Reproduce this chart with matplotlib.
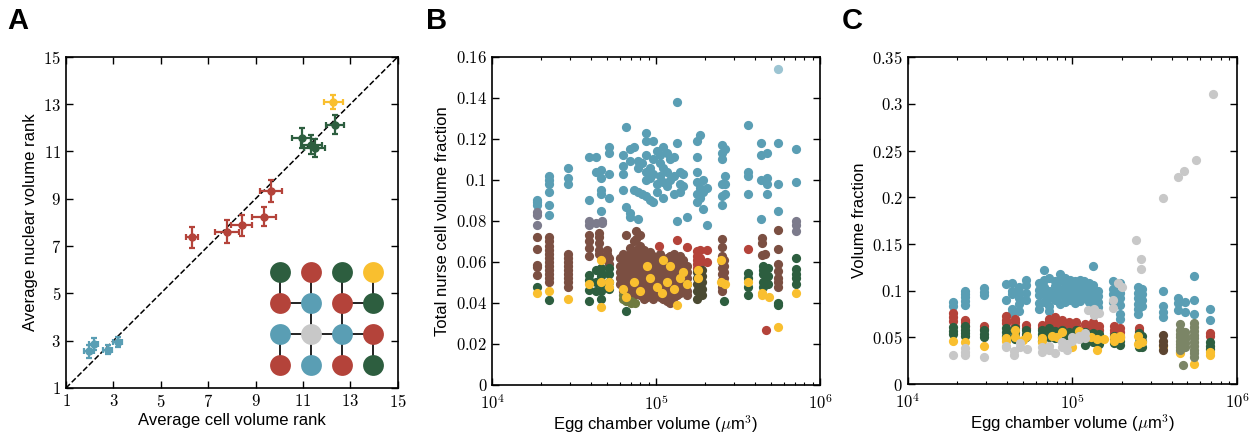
import math
import matplotlib
matplotlib.use("Agg")
import matplotlib.pyplot as plt
import matplotlib.ticker as mticker

plt.rcParams['font.family'] = ['Liberation Sans', 'DejaVu Sans']
plt.rcParams['mathtext.fontset'] = 'cm'

BLUE = '#5a9eb4'
RED = '#b4433a'
GREEN = '#2d5e3f'
YELLOW = '#f9bf2f'
GRAY = '#c8c8c8'
BROWN = '#7b4f42'
PURPLEGRAY = '#7c7b8c'
OLIVE = '#6f7b3f'
DARKOLIVE = '#4b4a32'
SAGE = '#7b8566'
DARKBROWN = '#5c4531'

# ---- panel A: average ranks with error bars
A_BLUE_X = [1.98, 2.17, 2.76, 3.18]
A_BLUE_Y = [2.55, 2.86, 2.62, 2.94]
A_BLUE_XERR = [0.2, 0.2, 0.18, 0.2]
A_BLUE_YERR = [0.28, 0.26, 0.2, 0.2]
A_RED_X = [6.30, 7.80, 8.42, 9.37, 9.65]
A_RED_Y = [7.37, 7.61, 7.87, 8.25, 9.33]
A_RED_XERR = [0.25, 0.5, 0.45, 0.5, 0.47]
A_RED_YERR = [0.45, 0.48, 0.45, 0.42, 0.45]
A_GREEN_X = [10.95, 11.35, 11.50, 12.37]
A_GREEN_Y = [11.58, 11.28, 11.15, 12.14]
A_GREEN_XERR = [0.4, 0.45, 0.45, 0.38]
A_GREEN_YERR = [0.42, 0.4, 0.38, 0.4]
A_YELLOW_X = [12.28]
A_YELLOW_Y = [13.10]
A_YELLOW_XERR = [0.4]
A_YELLOW_YERR = [0.3]

# inset cyst diagram (4x4 grid, row by row from the top)
INSET_X = [10.05, 11.35, 12.65, 13.95]
INSET_Y = [5.92, 4.59, 3.29, 1.99]
INSET_COLORS = [
    [GREEN, RED, GREEN, YELLOW],
    [RED, BLUE, RED, GREEN],
    [BLUE, GRAY, BLUE, RED],
    [RED, BLUE, RED, GREEN],
]
INSET_EDGES = [
    ((0, 0), (1, 0)), ((0, 1), (1, 1)), ((0, 2), (1, 2)), ((0, 3), (1, 3)),
    ((1, 0), (1, 1)), ((1, 2), (1, 3)),
    ((1, 1), (2, 1)), ((1, 2), (2, 2)),
    ((2, 0), (2, 1)), ((2, 1), (2, 2)), ((2, 2), (2, 3)),
    ((2, 0), (3, 0)), ((2, 1), (3, 1)), ((2, 2), (3, 2)), ((2, 3), (3, 3)),
]

# ---- panel B: nurse cell volume fractions, (egg chamber volume, [fractions])
B_BLUE = [
    (1.87e4, [0.090, 0.089, 0.088]),
    (2.23e4, [0.102, 0.100, 0.098, 0.094, 0.088, 0.083]),
    (2.92e4, [0.106, 0.101, 0.098]),
    (3.92e4, [0.111, 0.090]),
    (4.3e4, [0.111, 0.104]),
    (4.6e4, [0.105, 0.101, 0.095, 0.093, 0.085]),
    (5.2e4, [0.116, 0.113, 0.103, 0.091]),
    (6.3e4, [0.112, 0.107, 0.103, 0.095]),
    (6.6e4, [0.126, 0.087]),
    (6.9e4, [0.115, 0.109, 0.084, 0.082]),
    (7.3e4, [0.116, 0.095]),
    (7.8e4, [0.109, 0.106, 0.094, 0.081]),
    (8.2e4, [0.108, 0.093]),
    (8.7e4, [0.123, 0.119, 0.112, 0.104, 0.100, 0.092]),
    (9.2e4, [0.106, 0.101, 0.090]),
    (9.6e4, [0.119, 0.110, 0.103, 0.089]),
    (1.01e5, [0.114, 0.098, 0.094]),
    (1.06e5, [0.112, 0.108, 0.102]),
    (1.11e5, [0.116, 0.106, 0.099, 0.091]),
    (1.16e5, [0.113, 0.104, 0.097]),
    (1.22e5, [0.110, 0.100]),
    (1.28e5, [0.111, 0.102, 0.093]),
    (1.34e5, [0.138, 0.118, 0.080]),
    (1.40e5, [0.104, 0.098, 0.094]),
    (1.47e5, [0.103, 0.097]),
    (1.54e5, [0.082]),
    (1.77e5, [0.119, 0.111, 0.104, 0.099, 0.093, 0.089]),
    (1.85e5, [0.122, 0.096, 0.091]),
    (1.94e5, [0.100, 0.094, 0.086]),
    (2.04e5, [0.096, 0.078]),
    (2.51e5, [0.117, 0.113, 0.110, 0.098, 0.092, 0.088]),
    (2.64e5, [0.115, 0.102, 0.098, 0.093]),
    (3.62e5, [0.127, 0.104, 0.102, 0.093]),
    (4.37e5, [0.118, 0.112, 0.100, 0.081]),
    (4.73e5, [0.113, 0.101, 0.098, 0.093]),
    (5.57e5, [0.118, 0.098, 0.085]),
    (7.11e5, [0.115, 0.099]),
]
B_BLUE_FADED = [(5.57e5, [0.154])]
B_PURPLEGRAY = [
    (1.87e4, [0.0845, 0.083, 0.078]),
    (3.92e4, [0.080, 0.078]),
    (4.3e4, [0.079]),
    (4.7e4, [0.080, 0.079]),
    (7.11e5, [0.080, 0.078, 0.075]),
]
B_BROWN = [
    (1.87e4, [0.072, 0.0665, 0.0585, 0.0575, 0.0535]),
    (2.23e4, [0.072, 0.070, 0.068, 0.066, 0.064, 0.062, 0.060, 0.058, 0.056, 0.054, 0.052, 0.050]),
    (2.92e4, [0.064, 0.062, 0.060, 0.058, 0.056, 0.054, 0.052, 0.050, 0.048]),
    (3.92e4, [0.073, 0.070, 0.067, 0.063]),
    (4.5e4, [0.074, 0.072, 0.069, 0.066, 0.064]),
    (5.0e4, [0.066, 0.064, 0.061]),
    (5.2e4, [0.062, 0.059]),
    (6.0e4, [0.062, 0.058, 0.055, 0.052, 0.049]),
    (6.3e4, [0.064, 0.061, 0.058, 0.055, 0.052, 0.049, 0.046]),
    (6.6e4, [0.073, 0.062, 0.059, 0.056, 0.053, 0.050, 0.047]),
    (6.9e4, [0.067, 0.064, 0.061, 0.058, 0.055, 0.052, 0.049, 0.046]),
    (7.3e4, [0.070, 0.065, 0.062, 0.059, 0.056, 0.053, 0.050, 0.047, 0.044]),
    (7.6e4, [0.075, 0.071, 0.066, 0.063, 0.060, 0.057, 0.054, 0.051, 0.048]),
    (8.0e4, [0.073, 0.068, 0.065, 0.062, 0.059, 0.056, 0.053, 0.050, 0.047, 0.044]),
    (8.4e4, [0.066, 0.063, 0.060, 0.057, 0.054, 0.051, 0.048, 0.045, 0.042]),
    (8.8e4, [0.064, 0.061, 0.058, 0.055, 0.052, 0.049, 0.046, 0.043]),
    (9.2e4, [0.065, 0.062, 0.059, 0.056, 0.053, 0.050, 0.047, 0.044]),
    (9.6e4, [0.063, 0.060, 0.057, 0.054, 0.051, 0.048, 0.045, 0.042]),
    (1.01e5, [0.062, 0.059, 0.056, 0.053, 0.050, 0.047, 0.044]),
    (1.06e5, [0.064, 0.061, 0.058, 0.055, 0.052, 0.049, 0.046, 0.043]),
    (1.11e5, [0.060, 0.057, 0.054, 0.051, 0.048, 0.045, 0.042]),
    (1.16e5, [0.062, 0.059, 0.056, 0.053, 0.050, 0.047, 0.044, 0.041]),
    (1.22e5, [0.063, 0.060, 0.057, 0.054, 0.051, 0.048, 0.045, 0.040]),
    (1.28e5, [0.064, 0.061, 0.058, 0.055, 0.052, 0.049, 0.046, 0.043]),
    (1.34e5, [0.062, 0.059, 0.056, 0.053, 0.050, 0.047, 0.044]),
    (1.40e5, [0.063, 0.060, 0.057, 0.054, 0.051, 0.048, 0.045]),
    (1.47e5, [0.061, 0.058, 0.055, 0.052, 0.049, 0.046]),
    (1.54e5, [0.058, 0.055, 0.052, 0.049, 0.046, 0.044]),
    (2.51e5, [0.071, 0.0675, 0.063, 0.060, 0.057, 0.054, 0.051, 0.048, 0.046]),
    (2.60e5, [0.061, 0.058, 0.055, 0.052, 0.049]),
    (4.4e5, [0.0715, 0.069, 0.0635]),
    (4.6e5, [0.064]),
    (5.57e5, [0.0755, 0.0665, 0.059, 0.0555, 0.052, 0.050, 0.048]),
]
B_RED = [
    (1.04e5, [0.068]),
    (1.34e5, [0.0705]),
    (1.54e5, [0.0675]),
    (1.77e5, [0.0655, 0.063, 0.061, 0.059, 0.057]),
    (1.85e5, [0.066, 0.062, 0.059]),
    (2.04e5, [0.066, 0.060]),
    (3.62e5, [0.0665]),
    (4.7e5, [0.052, 0.027]),
]
B_DARKOLIVE = [
    (1.77e5, [0.055, 0.052, 0.049, 0.046, 0.042]),
    (1.90e5, [0.056, 0.053, 0.050, 0.047, 0.044]),
]
B_GREEN = [
    (1.87e4, [0.048]),
    (2.23e4, [0.0415]),
    (3.92e4, [0.0535, 0.051, 0.0465, 0.041]),
    (4.3e4, [0.056, 0.050, 0.046]),
    (4.6e4, [0.057, 0.055, 0.053, 0.049, 0.046, 0.042]),
    (5.2e4, [0.057, 0.054, 0.050, 0.047]),
    (6.6e4, [0.036]),
    (2.6e5, [0.041]),
    (3.62e5, [0.0545, 0.052, 0.048, 0.044]),
    (4.5e5, [0.058, 0.056, 0.054, 0.050, 0.048]),
    (4.8e5, [0.057, 0.053, 0.049]),
    (5.57e5, [0.040, 0.039]),
    (7.11e5, [0.062, 0.0565, 0.054, 0.052, 0.049]),
]
B_OLIVE = [
    (6.3e4, [0.042, 0.044]),
    (6.6e4, [0.043, 0.041]),
    (7.0e4, [0.041, 0.040]),
    (7.4e4, [0.040]),
]
B_YELLOW = [
    (1.87e4, [0.045]), (2.23e4, [0.046]), (2.92e4, [0.042]), (3.92e4, [0.049]),
    (4.6e4, [0.061, 0.050, 0.038]), (5.2e4, [0.050, 0.048]), (6.3e4, [0.047]),
    (6.6e4, [0.043]), (7.3e4, [0.050]), (8.0e4, [0.046]), (8.8e4, [0.058]),
    (9.2e4, [0.052]), (1.01e5, [0.048]), (1.08e5, [0.045]), (1.11e5, [0.061]),
    (1.16e5, [0.050]), (1.22e5, [0.058]), (1.28e5, [0.047]), (1.34e5, [0.039]),
    (1.40e5, [0.052]), (1.47e5, [0.055]), (1.54e5, [0.049]), (1.8e5, [0.056, 0.052]),
    (2.5e5, [0.061, 0.050]), (2.64e5, [0.049]), (3.62e5, [0.050]),
    (4.4e5, [0.045, 0.044]), (4.9e5, [0.043]), (5.57e5, [0.0285]), (7.11e5, [0.045]),
]

# ---- panel C: volume fraction of every cell class
C_BLUE = [
    (1.89e4, [0.088, 0.084]),
    (2.22e4, [0.100, 0.097, 0.093, 0.089, 0.085]),
    (2.90e4, [0.103, 0.099, 0.095]),
    (3.92e4, [0.107, 0.090]),
    (4.3e4, [0.108, 0.100, 0.096, 0.080, 0.076]),
    (4.7e4, [0.104, 0.098, 0.092, 0.086, 0.078]),
    (5.2e4, [0.111, 0.106, 0.098, 0.090]),
    (6.3e4, [0.108, 0.101, 0.095, 0.087, 0.080]),
    (6.7e4, [0.122, 0.112, 0.104, 0.096, 0.088]),
    (7.2e4, [0.114, 0.100, 0.092, 0.084, 0.078]),
    (7.8e4, [0.110, 0.105, 0.097, 0.090]),
    (8.4e4, [0.118, 0.112, 0.102, 0.095, 0.086]),
    (9.0e4, [0.114, 0.108, 0.100, 0.093, 0.088]),
    (9.7e4, [0.112, 0.104, 0.097, 0.090]),
    (1.04e5, [0.110, 0.106, 0.099, 0.093, 0.087]),
    (1.11e5, [0.112, 0.103, 0.096, 0.089]),
    (1.18e5, [0.110, 0.104, 0.098, 0.092]),
    (1.26e5, [0.108, 0.100, 0.094, 0.088]),
    (1.34e5, [0.127, 0.106, 0.098, 0.090, 0.085]),
    (1.42e5, [0.100, 0.094, 0.088, 0.083]),
    (1.77e5, [0.110, 0.102, 0.096, 0.088]),
    (1.94e5, [0.108, 0.098, 0.092, 0.085, 0.075, 0.070]),
    (2.51e5, [0.104, 0.098, 0.092, 0.086, 0.080, 0.075]),
    (2.64e5, [0.102, 0.096, 0.090, 0.084]),
    (3.57e5, [0.100, 0.084, 0.077, 0.072]),
    (4.4e5, [0.092, 0.087, 0.079]),
    (4.8e5, [0.088, 0.077]),
    (5.5e5, [0.116, 0.090, 0.075]),
    (6.9e5, [0.080, 0.069]),
]
C_RED = [
    (1.89e4, [0.076, 0.072, 0.068]),
    (2.22e4, [0.069, 0.066, 0.062]),
    (2.90e4, [0.062, 0.059]),
    (3.92e4, [0.073, 0.069, 0.065]),
    (4.5e4, [0.070, 0.066, 0.062]),
    (5.2e4, [0.063, 0.060]),
    (6.5e4, [0.063, 0.060]),
    (7.2e4, [0.070, 0.066, 0.062]),
    (7.8e4, [0.072, 0.068, 0.064]),
    (8.6e4, [0.069, 0.065, 0.061]),
    (9.5e4, [0.066, 0.062]),
    (1.05e5, [0.066, 0.062]),
    (1.2e5, [0.064, 0.060]),
    (1.34e5, [0.067, 0.063, 0.060]),
    (1.45e5, [0.062, 0.058]),
    (1.8e5, [0.062, 0.058, 0.055]),
    (1.95e5, [0.060, 0.056]),
    (2.55e5, [0.060, 0.057]),
    (6.9e5, [0.055, 0.052]),
]
C_GREEN = [
    (1.89e4, [0.061, 0.057, 0.054]),
    (2.22e4, [0.062, 0.058, 0.055, 0.051]),
    (2.90e4, [0.058, 0.054, 0.050]),
    (3.92e4, [0.060, 0.056, 0.052]),
    (4.5e4, [0.060, 0.056, 0.052, 0.048]),
    (5.2e4, [0.058, 0.054, 0.050]),
    (6.5e4, [0.058, 0.054, 0.050, 0.046]),
    (7.2e4, [0.060, 0.056, 0.050]),
    (7.8e4, [0.057, 0.053, 0.049]),
    (8.6e4, [0.058, 0.054, 0.048]),
    (9.5e4, [0.056, 0.052]),
    (1.05e5, [0.058, 0.054, 0.050]),
    (1.2e5, [0.056, 0.052, 0.046, 0.042]),
    (1.34e5, [0.055, 0.051, 0.045]),
    (1.45e5, [0.054, 0.050, 0.043]),
    (1.8e5, [0.052, 0.048, 0.044]),
    (1.95e5, [0.050, 0.046, 0.042]),
    (2.55e5, [0.055, 0.050, 0.045, 0.040]),
    (2.64e5, [0.052, 0.046, 0.040]),
    (6.9e5, [0.045, 0.041, 0.038]),
]
C_YELLOW = [
    (1.89e4, [0.046]), (2.22e4, [0.045]), (2.90e4, [0.041]), (3.92e4, [0.049, 0.046]),
    (4.5e4, [0.058, 0.050]), (5.0e4, [0.047]), (5.3e4, [0.051]), (6.5e4, [0.045, 0.049]),
    (7.5e4, [0.052]), (8.0e4, [0.050]), (8.6e4, [0.056]), (1.0e5, [0.040]),
    (1.1e5, [0.052, 0.057]), (1.3e5, [0.050]), (1.4e5, [0.036, 0.048]), (1.55e5, [0.048]),
    (1.8e5, [0.046, 0.050]), (1.95e5, [0.052, 0.049]), (2.5e5, [0.052, 0.043]),
    (2.64e5, [0.045]), (3.57e5, [0.041]), (4.5e5, [0.034, 0.033]), (5.5e5, [0.022]),
    (6.9e5, [0.034, 0.031]),
]
C_GRAY = [
    (1.89e4, [0.031]), (2.22e4, [0.039, 0.034, 0.031]), (2.90e4, [0.029]),
    (3.92e4, [0.041, 0.040]), (4.4e4, [0.031, 0.035]), (4.8e4, [0.040, 0.044]),
    (5.3e4, [0.038]), (6.5e4, [0.040, 0.034]), (7.2e4, [0.037, 0.041]), (7.8e4, [0.033]),
    (8.6e4, [0.045, 0.040]), (9.3e4, [0.043, 0.037]), (1.0e5, [0.046, 0.050]),
    (1.1e5, [0.052, 0.048]), (1.2e5, [0.055, 0.049]), (1.25e5, [0.079]),
    (1.35e5, [0.080, 0.074]), (1.45e5, [0.076]), (1.77e5, [0.090, 0.082]),
    (1.9e5, [0.108]), (2.0e5, [0.104]), (2.45e5, [0.154]), (2.6e5, [0.134, 0.123]),
    (3.57e5, [0.199]), (4.4e5, [0.222]), (4.75e5, [0.228]), (5.6e5, [0.240]),
    (7.1e5, [0.311]),
]
C_SAGE = [
    (4.5e5, [0.064, 0.058, 0.054, 0.050, 0.046, 0.043, 0.040, 0.036]),
    (4.8e5, [0.056, 0.052, 0.048, 0.044, 0.040]),
    (4.7e5, [0.020]),
    (5.5e5, [0.065, 0.061, 0.057, 0.053, 0.049, 0.045, 0.041, 0.037, 0.033, 0.029]),
]
C_DARKBROWN = [(3.57e5, [0.053, 0.046, 0.042, 0.037])]


def expand(groups):
    xs, ys = [], []
    for vol, vals in groups:
        for v in vals:
            xs.append(vol)
            ys.append(v)
    return xs, ys


def math_fmt(v, pos):
    return r'$%g$' % v


def log_fmt(v, pos):
    return r'$10^{%d}$' % round(math.log10(v))


def style_axes(ax):
    for sp in ax.spines.values():
        sp.set_linewidth(1.2)
    ax.tick_params(which='both', direction='in', top=True, right=True, labelsize=12)
    ax.tick_params(which='major', length=5, width=1)
    ax.tick_params(which='minor', length=2.5, width=0.8)


fig = plt.figure(figsize=(12.52, 4.34), dpi=100)
axA = fig.add_axes([0.0527, 0.106, 0.265, 0.763])
axB = fig.add_axes([0.393, 0.113, 0.262, 0.756])
axC = fig.add_axes([0.7252, 0.115, 0.2628, 0.753])

# A
axA.plot([1, 15], [1, 15], 'k--', lw=1.1, zorder=1)
for xs, ys, xe, ye, c in [(A_BLUE_X, A_BLUE_Y, A_BLUE_XERR, A_BLUE_YERR, BLUE),
                          (A_RED_X, A_RED_Y, A_RED_XERR, A_RED_YERR, RED),
                          (A_GREEN_X, A_GREEN_Y, A_GREEN_XERR, A_GREEN_YERR, GREEN),
                          (A_YELLOW_X, A_YELLOW_Y, A_YELLOW_XERR, A_YELLOW_YERR, YELLOW)]:
    axA.errorbar(xs, ys, xerr=xe, yerr=ye, fmt='o', ms=5, color=c, ecolor=c,
                 elinewidth=1.6, capsize=2, capthick=1.6, zorder=3)
for (r1, c1), (r2, c2) in INSET_EDGES:
    axA.plot([INSET_X[c1], INSET_X[c2]], [INSET_Y[r1], INSET_Y[r2]], color='#222222', lw=1.4, zorder=4)
for r, row in enumerate(INSET_COLORS):
    for c, col in enumerate(row):
        axA.scatter(INSET_X[c], INSET_Y[r], s=225, color=col, linewidths=0, zorder=5)
axA.set_xlim(1, 15)
axA.set_ylim(1, 15)
axA.set_xticks(range(1, 16, 2))
axA.set_yticks(range(1, 16, 2))
axA.xaxis.set_major_formatter(mticker.FuncFormatter(math_fmt))
axA.yaxis.set_major_formatter(mticker.FuncFormatter(math_fmt))
axA.set_xlabel('Average cell volume rank', fontsize=12, labelpad=2)
axA.set_ylabel('Average nuclear volume rank', fontsize=12, labelpad=4)
style_axes(axA)

# B
for groups, c, a in [(B_BLUE, BLUE, 1), (B_BLUE_FADED, BLUE, 0.6), (B_PURPLEGRAY, PURPLEGRAY, 1),
                     (B_BROWN, BROWN, 1), (B_RED, RED, 1), (B_DARKOLIVE, DARKOLIVE, 1),
                     (B_GREEN, GREEN, 1), (B_OLIVE, OLIVE, 1), (B_YELLOW, YELLOW, 1)]:
    xs, ys = expand(groups)
    axB.scatter(xs, ys, s=44, color=c, alpha=a, linewidths=0, zorder=3)
axB.set_xscale('log')
axB.set_xlim(1e4, 1e6)
axB.set_ylim(0, 0.16)
axB.set_yticks([0, 0.02, 0.04, 0.06, 0.08, 0.1, 0.12, 0.14, 0.16])
axB.yaxis.set_major_formatter(mticker.FuncFormatter(math_fmt))
axB.xaxis.set_major_formatter(mticker.FuncFormatter(log_fmt))
axB.xaxis.set_minor_formatter(mticker.NullFormatter())
axB.set_xlabel(r'Egg chamber volume ($\mu$m$^3$)', fontsize=12, labelpad=0)
axB.set_ylabel('Total nurse cell volume fraction', fontsize=12, labelpad=4)
style_axes(axB)
axB.tick_params(axis='x', which='major', pad=6)

# C
for groups, c in [(C_BLUE, BLUE), (C_RED, RED), (C_GREEN, GREEN), (C_YELLOW, YELLOW),
                  (C_GRAY, GRAY), (C_SAGE, SAGE), (C_DARKBROWN, DARKBROWN)]:
    xs, ys = expand(groups)
    axC.scatter(xs, ys, s=44, color=c, linewidths=0, zorder=3)
axC.set_xscale('log')
axC.set_xlim(1e4, 1e6)
axC.set_ylim(0, 0.35)
axC.set_yticks([0, 0.05, 0.1, 0.15, 0.2, 0.25, 0.3, 0.35])
axC.yaxis.set_major_formatter(mticker.FuncFormatter(math_fmt))
axC.xaxis.set_major_formatter(mticker.FuncFormatter(log_fmt))
axC.xaxis.set_minor_formatter(mticker.NullFormatter())
axC.set_xlabel(r'Egg chamber volume ($\mu$m$^3$)', fontsize=12, labelpad=0)
axC.set_ylabel('Volume fraction', fontsize=12, labelpad=4)
style_axes(axC)
axC.tick_params(axis='x', which='major', pad=6)

for x, lab in [(0.006, 'A'), (0.340, 'B'), (0.672, 'C')]:
    fig.text(x, 0.985, lab, fontsize=21, fontweight='bold', va='top', ha='left')

fig.savefig('out.png', dpi=100)
